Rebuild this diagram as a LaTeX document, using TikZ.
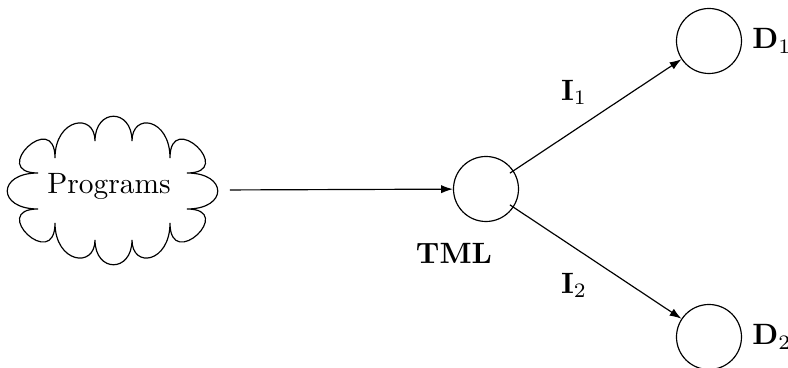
\documentclass[tikz,border=0pt]{standalone}
\usetikzlibrary{arrows.meta}
\begin{document}
\begin{tikzpicture}[x=0.34pt,y=-0.34pt,
  state/.style={circle,draw,minimum size=22.1pt,inner sep=0pt},
  conn/.style={-{Latex[length=4pt,width=2.8pt]}},
  lbl/.style={font=\bfseries},
  cloudline/.style={draw,line width=0.4pt}]
\useasboundingbox (0,0) rectangle (788,368);
% cloud outline
\path[cloudline]
  (187,173) .. controls (228,173) and (228,209) .. (187,209)
  .. controls (237,209) and (170,273) .. (170,223)
  .. controls (170,263) and (132,269) .. (132,240)
  .. controls (132,273) and (95,273) .. (95,240)
  .. controls (95,269) and (55,263) .. (55,223)
  .. controls (55,273) and (-12,209) .. (38,209)
  .. controls (-3,209) and (-3,173) .. (38,173)
  .. controls (-12,173) and (55,108) .. (55,158)
  .. controls (55,118) and (95,112) .. (95,141)
  .. controls (95,108) and (132,108) .. (132,141)
  .. controls (132,112) and (170,118) .. (170,158)
  .. controls (170,108) and (237,173) .. (187,173) -- cycle;
\node (prog) at (109,186) {Programs};
\coordinate (progE) at (218,190);
\node[state] (tml) at (486,189) {};
\node[state,label=right:$\mathbf{D}_1$] (d1) at (709,41) {};
\node[state,label=right:$\mathbf{D}_2$] (d2) at (709,337) {};
\node[lbl] (tmll) at (454,253) {TML};
\draw[conn,shorten <=4pt] (progE) -- (tml);
\draw[conn,shorten <=-1.5pt] (tml) -- node[midway,above left]{$\mathbf{I}_1$} (d1);
\draw[conn,shorten <=-1.5pt] (tml) -- node[midway,below left]{$\mathbf{I}_2$} (d2);
\end{tikzpicture}
\end{document}
